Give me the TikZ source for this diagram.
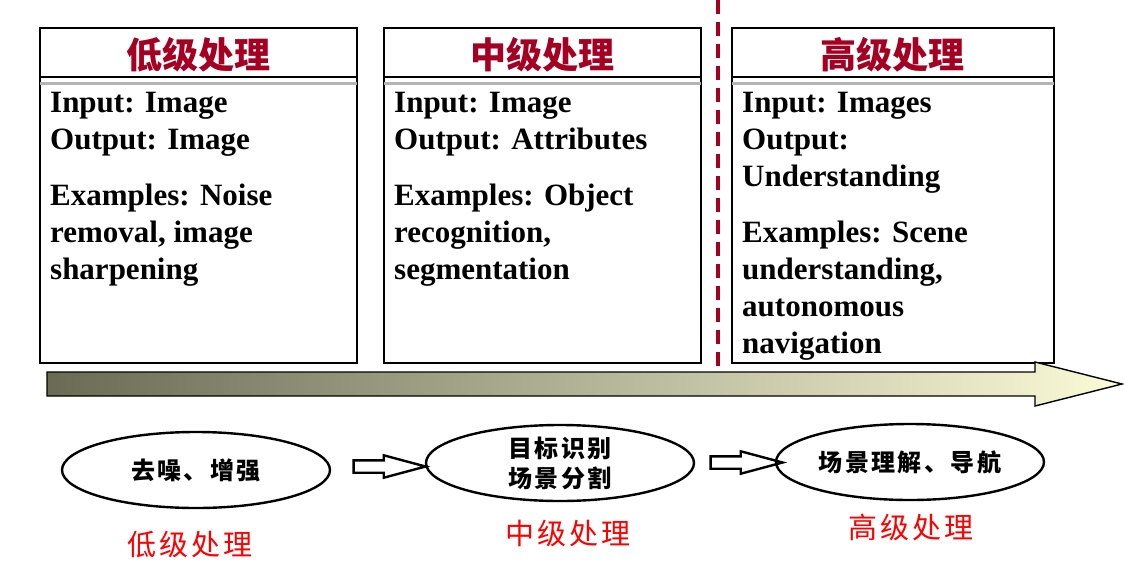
\documentclass[tikz,border=0pt]{standalone}
\usepackage{fontspec}
\setmainfont{Liberation Serif}
\newfontfamily\cjk{Noto Sans CJK SC}
\newfontfamily\cjkspaced[LetterSpace=10]{Noto Sans CJK SC}
\newfontfamily\cjkwide[LetterSpace=10]{Noto Sans CJK SC}
\usetikzlibrary{calc,positioning,shapes.geometric,shapes.arrows}
\definecolor{lvlred}{HTML}{A50021}
\definecolor{lvlgray}{HTML}{B4B4B4}
\definecolor{flowdark}{HTML}{6B6B55}
\definecolor{flowmid}{HTML}{C4C49E}
\definecolor{flowlight}{HTML}{FBFBD8}
\tikzset{
  lvlbox/.style={draw,line width=1.6pt,minimum width=317pt,minimum height=335pt,anchor=north west,inner sep=0pt},
  lvltitle/.style={font=\cjk\bfseries\fontsize{36}{40}\selectfont,text=lvlred,inner sep=0pt},
  lvltext/.style={font=\bfseries\fontsize{31}{37}\selectfont,align=left,anchor=north west,inner sep=0pt},
  taskoval/.style={draw,ellipse,line width=2.4pt,minimum width=268pt,minimum height=76pt,inner sep=0pt,align=center,font=\cjkspaced\bfseries\fontsize{24}{30}\selectfont},
  taskarrow/.style={draw,single arrow,line width=2.4pt,minimum height=72pt,inner xsep=0pt,inner ysep=5pt,single arrow head extend=5pt,single arrow tip angle=30},
  tasklabel/.style={font=\cjkwide\fontsize{29}{32}\selectfont,text=red,inner sep=0pt}
}
\begin{document}
\begin{tikzpicture}[x=1pt,y=-1pt]
\useasboundingbox (0,0) rectangle (1124,576);
% three processing levels
\node[lvlbox] (low) at (39,27) {};
\node[lvlbox] (mid) at (383,27) {};
\node[lvlbox,minimum width=322pt] (high) at (731,27) {};
\foreach \n in {low,mid,high}{
  \draw[line width=1.6pt] ($(\n.north west)+(0,50)$) -- ($(\n.north east)+(0,50)$);
  \draw[lvlgray,line width=3pt] ($(\n.north west)+(0.8,56)$) -- ($(\n.north east)+(-0.8,56)$);
}
\node[lvltitle] (lowtitle) at ($(low.north)+(0,28)$) {低级处理};
\node[lvltitle] (midtitle) at ($(mid.north)+(0,28)$) {中级处理};
\node[lvltitle] (hightitle) at ($(high.north)+(0,28)$) {高级处理};
\node[lvltext] (lowtext) at ($(low.north west)+(11,65)$) {Input: Image\\Output: Image\\[19pt]Examples: Noise\\removal, image\\sharpening};
\node[lvltext] (midtext) at ($(mid.north west)+(11,65)$) {Input: Image\\Output: Attributes\\[19pt]Examples: Object\\recognition,\\segmentation};
\node[lvltext] (hightext) at ($(high.north west)+(11,65)$) {Input: Images\\Output:\\Understanding\\[19pt]Examples: Scene\\understanding,\\autonomous\\navigation};
\draw[lvlred,line width=3.5pt,dash pattern=on 14pt off 8pt] (718,0) -- (718,371);
% gradient arrow
\shadedraw[left color=flowdark,middle color=flowmid,right color=flowlight,line width=1.4pt]
  (47,372) -- (1035,372) -- (1035,362) -- (1122,384) -- (1035,406) -- (1035,396) -- (47,396) -- cycle;
% tasks
\node[taskoval] (denoise) at (196,470) {去噪、增强};
\node[taskoval] (recog) at (560,463) {目标识别\\场景分割};
\node[taskoval] (scene) at (910,462) {场景理解、导航};
\node[taskarrow] (arrowa) at ($(denoise.east)!0.5!(recog.west)$) {};
\node[taskarrow] (arrowb) at ($(recog.east)!0.5!(scene.west)$) {};
\node[tasklabel] (lowlabel) at (190,545) {低级处理};
\node[tasklabel] (midlabel) at (568,533) {中级处理};
\node[tasklabel] (highlabel) at (911,527) {高级处理};
\end{tikzpicture}
\end{document}
